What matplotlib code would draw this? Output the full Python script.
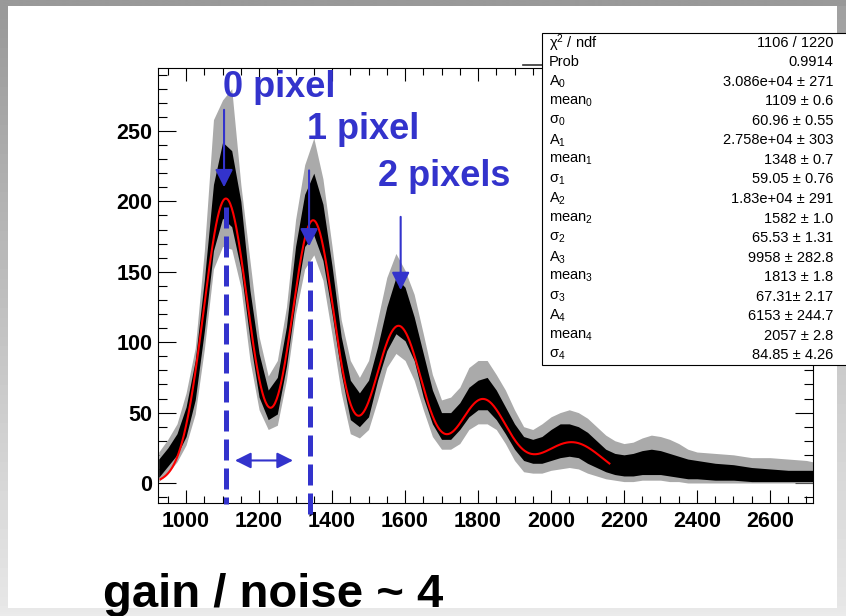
import numpy as np
import matplotlib
matplotlib.use("Agg")
import matplotlib.pyplot as plt
from matplotlib.colors import LinearSegmentedColormap
from matplotlib.patches import Rectangle
from matplotlib.lines import Line2D
from matplotlib.ticker import MultipleLocator

plt.rcParams['font.family'] = ['Liberation Sans', 'DejaVu Sans']
plt.rcParams['mathtext.fontset'] = 'custom'
plt.rcParams['mathtext.rm'] = 'Liberation Sans'
plt.rcParams['mathtext.it'] = 'Liberation Sans:italic'

# ADC spectrum: dense band of the histogram (core) and its outer spikes
hist_x = [925, 950, 975, 1000, 1025, 1050, 1075, 1100, 1125, 1150, 1175, 1200,
          1225, 1250, 1275, 1300, 1325, 1350, 1375, 1400, 1425, 1450, 1475, 1500,
          1525, 1550, 1575, 1600, 1625, 1650, 1675, 1700, 1725, 1750, 1775, 1800,
          1825, 1850, 1875, 1900, 1925, 1950, 1975, 2000, 2025, 2050, 2075, 2100,
          2125, 2150, 2175, 2200, 2225, 2250, 2275, 2300, 2325, 2350, 2375, 2400,
          2450, 2500, 2550, 2600, 2650, 2700, 2718]
core_lo = [4, 12, 20, 33, 59, 108, 165, 188, 182, 152, 102, 61,
           45, 49, 83, 130, 168, 176, 158, 120, 78, 45, 40, 47,
           73, 94, 106, 101, 87, 61, 42, 31, 31, 38, 47, 52,
           52, 45, 35, 24, 16, 14, 14, 16, 18, 19, 18, 14,
           11, 8, 6, 5, 5, 6, 6, 6, 5, 4, 3, 3,
           2, 2, 1, 1, 1, 1, 1]
core_hi = [17, 25, 35, 54, 87, 144, 212, 242, 236, 200, 137, 92,
           66, 75, 111, 168, 205, 220, 198, 154, 104, 73, 64, 73,
           97, 125, 146, 139, 118, 92, 66, 50, 50, 57, 68, 73,
           75, 66, 54, 42, 33, 31, 33, 38, 42, 42, 40, 36,
           30, 24, 21, 20, 21, 23, 24, 23, 21, 19, 17, 16,
           14, 13, 11, 10, 9, 9, 9]
spike_lo = [1, 7, 15, 27, 49, 95, 152, 168, 166, 139, 87, 52,
            38, 41, 73, 120, 152, 162, 144, 105, 64, 35, 32, 38,
            59, 82, 92, 87, 73, 52, 33, 24, 24, 28, 38, 42,
            42, 38, 28, 16, 8, 7, 7, 9, 10, 11, 10, 7,
            5, 3, 2, 1, 1, 2, 2, 2, 1, 1, 0, 0,
            0, 0, 0, 0, 0, 0, 0]
spike_hi = [22, 31, 42, 64, 96, 165, 258, 272, 280, 212, 158, 104,
            76, 87, 125, 187, 226, 245, 216, 168, 116, 87, 75, 87,
            116, 146, 163, 151, 134, 106, 77, 59, 61, 68, 82, 87,
            87, 77, 66, 52, 40, 38, 42, 47, 50, 52, 50, 46,
            40, 34, 30, 28, 29, 32, 34, 33, 31, 28, 24, 22,
            21, 20, 18, 18, 17, 16, 15]

# fit result: sum of five normalised gaussians (bin width 1)
fit_A = [3.086e4, 2.758e4, 1.83e4, 9958, 6153]
fit_mean = [1109, 1348, 1582, 1813, 2057]
fit_sigma = [60.96, 59.05, 65.53, 67.31, 84.85]
fit_range = (930, 2160)

stat_labels = ['χ$^2$ / ndf', 'Prob',
               'A$_0$', 'mean$_0$', 'σ$_0$',
               'A$_1$', 'mean$_1$', 'σ$_1$',
               'A$_2$', 'mean$_2$', 'σ$_2$',
               'A$_3$', 'mean$_3$', 'σ$_3$',
               'A$_4$', 'mean$_4$', 'σ$_4$']
stat_values = ['1106 / 1220', '0.9914',
               '3.086e+04 ± 271', '1109 ± 0.6', '60.96 ± 0.55',
               '2.758e+04 ± 303', '1348 ± 0.7', '59.05 ± 0.76',
               '1.83e+04 ± 291', '1582 ± 1.0', '65.53 ± 1.31',
               '9958 ± 282.8', '1813 ± 1.8', '67.31± 2.17',
               '6153 ± 244.7', '2057 ± 2.8', '84.85 ± 4.26']

peak_labels = ['0 pixel', '1 pixel', '2 pixels']
peak_label_xy = [(1101, 274), (1331, 244), (1526, 211)]
peak_arrow_x = [1104, 1337, 1588]
peak_arrow_top = [265, 222, 189]
peak_arrow_tip = [210, 168, 137]
dash_x = [1110, 1340]
dash_top = [196, 158]
dash_bottom = [-15, -26]
span_arrow = (1134, 1293, 16)

W, H = 846, 616
fig = plt.figure(figsize=(W / 100, H / 100), dpi=100)
fig.patch.set_facecolor('white')


def px(x0, y0, x1, y1):
    return [x0 / W, 1 - y1 / H, (x1 - x0) / W, (y1 - y0) / H]


def gradient(rect, c0, c1):
    g = fig.add_axes(rect, zorder=-5)
    cmap = LinearSegmentedColormap.from_list('g', [c0, c1])
    g.imshow(np.linspace(0, 1, 64)[:, None], cmap=cmap, aspect='auto')
    g.axis('off')


# slide frame
gradient(px(0, 0, 7, H), '#999999', '#e8e8e8')
gradient(px(837, 0, W, H), '#a0a0a0', '#e8e8e8')
gradient(px(0, 0, W, 6), '#999999', '#999999')
gradient(px(0, 608, W, H), '#e8e8e8', '#ececec')

blue = '#3333cc'
ax = fig.add_axes(px(158, 68, 813, 503))
ax.set_xlim(923, 2718)
ax.set_ylim(-14.2, 294.7)

ax.fill_between(hist_x, spike_lo, spike_hi, color='#aaaaaa', lw=0, zorder=2)
ax.fill_between(hist_x, core_lo, core_hi, color='black', lw=0, zorder=3)

xf = np.linspace(fit_range[0], fit_range[1], 600)
yf = np.zeros_like(xf)
for a, m, s in zip(fit_A, fit_mean, fit_sigma):
    yf += a / (np.sqrt(2 * np.pi) * s) * np.exp(-0.5 * ((xf - m) / s) ** 2)

for x, top, bot in zip(dash_x, dash_top, dash_bottom):
    ax.plot([x, x], [top, bot], color=blue, lw=3.6, ls=(0, (4.2, 1.6)),
            zorder=4, clip_on=False)

ax.plot(xf, yf, color='red', lw=1.5, zorder=5)

for lab, (lx, ly), x, top, tip in zip(peak_labels, peak_label_xy, peak_arrow_x,
                                      peak_arrow_top, peak_arrow_tip):
    ax.text(lx, ly, lab, color=blue, fontsize=26, fontweight='bold',
            ha='left', va='baseline', zorder=6)
    ax.annotate('', xy=(x, tip), xytext=(x, top),
                arrowprops=dict(arrowstyle='-|>,head_length=0.9,head_width=0.45',
                                mutation_scale=12, color=blue, lw=1.5,
                                shrinkA=0, shrinkB=0), zorder=6)

ax.annotate('', xy=(span_arrow[1], span_arrow[2]), xytext=(span_arrow[0], span_arrow[2]),
            arrowprops=dict(arrowstyle='<|-|>,head_length=0.8,head_width=0.4',
                            mutation_scale=12, color=blue, lw=1.5,
                            shrinkA=0, shrinkB=0), zorder=6)

ax.xaxis.set_major_locator(MultipleLocator(200))
ax.xaxis.set_minor_locator(MultipleLocator(50))
ax.yaxis.set_major_locator(MultipleLocator(50))
ax.yaxis.set_minor_locator(MultipleLocator(10))
ax.tick_params(which='both', direction='in', top=True, right=True, width=0.8,
               labelsize=15.5)
ax.tick_params(axis='x', which='major', length=9.5, pad=6)
ax.tick_params(axis='x', which='minor', length=5)
ax.tick_params(axis='y', which='major', length=13, pad=4)
ax.tick_params(axis='y', which='minor', length=6.5)
for t in ax.get_xticklabels() + ax.get_yticklabels():
    t.set_fontweight('bold')
for sp in ax.spines.values():
    sp.set_linewidth(0.8)

# edge of the box hidden behind the fit statistics
fig.add_artist(Line2D([523 / W, 542 / W], [1 - 65 / H, 1 - 65 / H],
                      transform=fig.transFigure, color='#333333', lw=1.2))

# fit statistics box
box_top, box_bot = 33, 365
fig.add_artist(Rectangle((542 / W, 1 - box_bot / H), (W + 5 - 542) / W,
                         (box_bot - box_top) / H, transform=fig.transFigure,
                         facecolor='white', edgecolor='black', lw=0.8, zorder=10))
row_h = (box_bot - box_top) / len(stat_labels)
for i, (lab, val) in enumerate(zip(stat_labels, stat_values)):
    y = box_top + row_h * (i + 0.5)
    fig.text(549 / W, 1 - y / H, lab, fontsize=10.5, ha='left', va='center', zorder=11)
    fig.text(833 / W, 1 - y / H, val, fontsize=10.5, ha='right', va='center', zorder=11)

fig.text(103 / W, 1 - 607 / H, 'gain / noise ~ 4', fontsize=34, fontweight='bold',
         ha='left', va='baseline')

fig.savefig('out.png', dpi=100)
